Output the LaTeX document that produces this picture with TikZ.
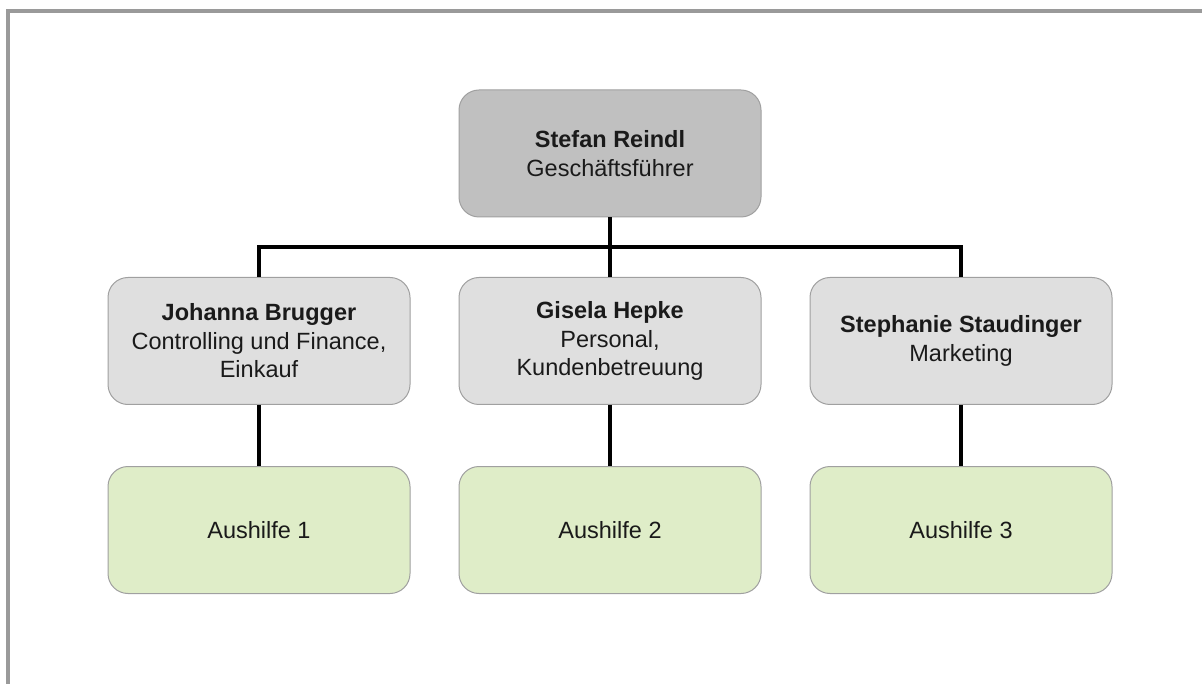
\documentclass[tikz,border=0pt]{standalone}
\usepackage{fontspec}
\setmainfont{Liberation Sans}
\definecolor{framegray}{HTML}{9A9A9A}
\definecolor{bordergray}{HTML}{A0A0A0}
\definecolor{bossfill}{HTML}{C0C0C0}
\definecolor{midfill}{HTML}{DFDFDF}
\definecolor{greenfill}{HTML}{DFEDC8}
\definecolor{txt}{HTML}{1A1A1A}
\begin{document}
\begin{tikzpicture}[x=1pt,y=-1pt,
  orgbox/.style={draw=bordergray, line width=1pt, rounded corners=20pt,
    minimum width=302pt, minimum height=127pt, inner sep=0pt,
    align=center, text=txt, font=\fontsize{23.5}{28.5}\selectfont},
  boss/.style={orgbox, fill=bossfill},
  mid/.style={orgbox, fill=midfill},
  helper/.style={orgbox, fill=greenfill},
  conn/.style={line width=4.5pt, black}]
\useasboundingbox (0,0) rectangle (1202,684);
\fill[white] (0,0) rectangle (1202,684);
% frame
\draw[framegray, line width=4pt] (8,684) -- (8,11) -- (1202,11);
% nodes
\node[boss] (b) at (610,153.5) {\textbf{Stefan Reindl}\\Geschäftsführer};
\node[mid] (m1) at (259,341) {\textbf{Johanna Brugger}\\Controlling und Finance,\\Einkauf};
\node[mid] (m2) at (610,341) {\textbf{Gisela Hepke}\\Personal,\\Kundenbetreuung};
\node[mid] (m3) at (961,341) {\textbf{Stephanie Staudinger}\\Marketing};
\node[helper] (a1) at (259,530) {Aushilfe 1};
\node[helper] (a2) at (610,530) {Aushilfe 2};
\node[helper] (a3) at (961,530) {Aushilfe 3};
\coordinate (bus) at (610,247);
% connectors
\draw[conn] (b.south) -- (m2.north);
\draw[conn] (m1.north) -- (m1.north |- bus) -- (m3.north |- bus) -- (m3.north);
\draw[conn] (m1.south) -- (a1.north);
\draw[conn] (m2.south) -- (a2.north);
\draw[conn] (m3.south) -- (a3.north);
\end{tikzpicture}
\end{document}
